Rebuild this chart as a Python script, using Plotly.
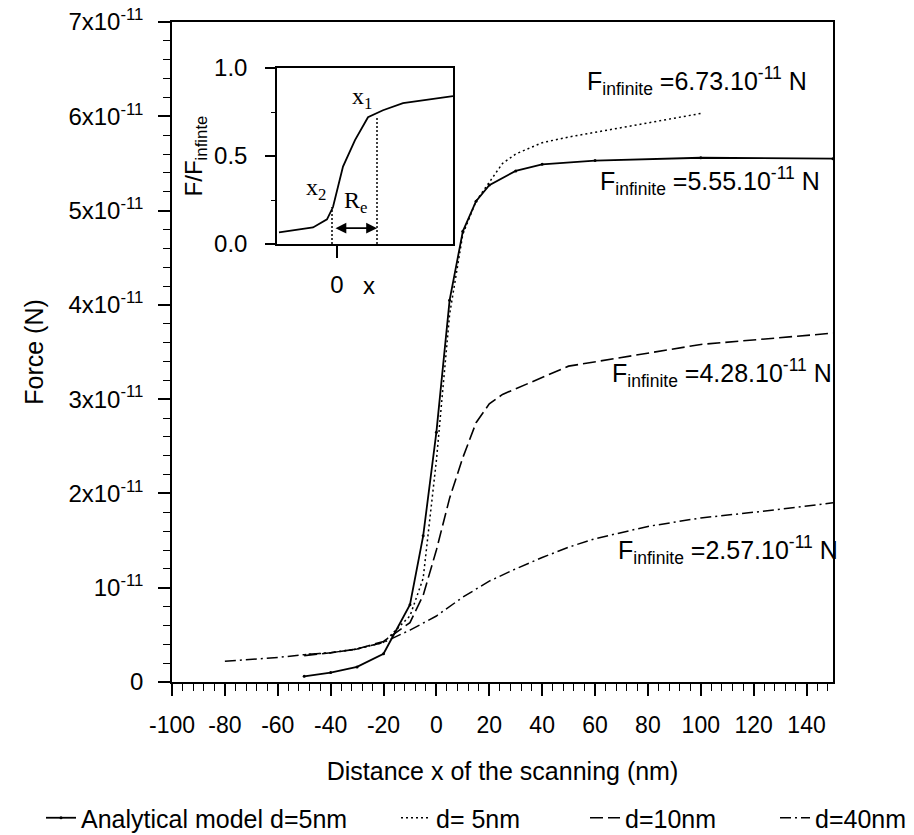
import plotly.graph_objects as go

# ---------------- data (force in units of 1e-11 N) ----------------
x_analytic = [-50, -40, -30, -20, -10, -5, 0, 5, 10, 15, 20, 30, 40, 60, 100, 150]
f_analytic = [0.06, 0.10, 0.16, 0.30, 0.82, 1.55, 2.65, 4.05, 4.78, 5.10, 5.27, 5.42, 5.49, 5.53, 5.56, 5.55]

x_d5 = [-50, -40, -30, -20, -10, -5, 0, 5, 10, 15, 20, 25, 30, 40, 50, 100]
f_d5 = [0.29, 0.31, 0.35, 0.42, 0.70, 1.10, 2.35, 3.90, 4.75, 5.10, 5.30, 5.50, 5.60, 5.72, 5.78, 6.03]

x_d10 = [-50, -40, -30, -20, -10, -5, 0, 5, 10, 15, 20, 25, 50, 100, 150]
f_d10 = [0.28, 0.31, 0.35, 0.43, 0.63, 0.92, 1.40, 1.95, 2.38, 2.75, 2.95, 3.05, 3.35, 3.58, 3.70]

x_d40 = [-80, -60, -50, -40, -30, -20, -10, 0, 10, 20, 30, 40, 50, 60, 80, 100, 120, 150]
f_d40 = [0.22, 0.26, 0.29, 0.31, 0.35, 0.42, 0.55, 0.70, 0.90, 1.07, 1.20, 1.32, 1.43, 1.52, 1.65, 1.74, 1.80, 1.90]

# inset: normalised force vs position (arbitrary x units, 0 at the edge)
inset_x = [-58, -24, -10, -4, 6, 18, 31, 46, 66, 83, 116]
inset_y = [0.066, 0.094, 0.14, 0.21, 0.44, 0.59, 0.72, 0.76, 0.80, 0.815, 0.84]
x2_pos, x2_val = -5, 0.21
x1_pos, x1_val = 40, 0.72

x_ticks = list(range(-100, 141, 20))
x_ticktext = [str(v) for v in x_ticks]
y_ticks = [0, 1, 2, 3, 4, 5, 6, 7]          # in units of 1e-11 N
y_ticktext = ["0", "10<sup>-11</sup>"] + [f"{v}x10<sup>-11</sup>" for v in y_ticks[2:]]

f_inf_labels = ["6.73", "5.55", "4.28", "2.57"]
f_inf_pos = [(56.2, 6.37), (61.1, 5.31), (65.6, 3.28), (68.0, 1.40)]

black = "black"
FONT = "Liberation Sans, Arial, sans-serif"
SERIF = "Liberation Serif, Times New Roman, serif"

# figure fills the page (body margin removed below)
W, H = 914, 835
ML, MT = 172, 22
MR = W - 833
MB = H - 682
PW, PH = W - ML - MR, H - MT - MB


def px_to_paper_x(px):
    return (px - ML) / PW


def px_to_paper_y(py):
    return (H - MB - py) / PH


fig = go.Figure()

fig.add_trace(go.Scatter(
    x=x_analytic, y=f_analytic, mode="lines+markers",
    line=dict(color=black, width=1.8), marker=dict(size=3, color=black),
    name="Analytical model d=5nm", legend="legend"))
fig.add_trace(go.Scatter(
    x=x_d5, y=f_d5, mode="lines",
    line=dict(color=black, width=1.5, dash="2px,3px"),
    name="d= 5nm", legend="legend2"))
fig.add_trace(go.Scatter(
    x=x_d10, y=f_d10, mode="lines",
    line=dict(color=black, width=1.6, dash="13px,5px"),
    name="d=10nm", legend="legend3"))
fig.add_trace(go.Scatter(
    x=x_d40, y=f_d40, mode="lines",
    line=dict(color=black, width=1.5, dash="11px,4px,2px,4px"),
    name="d=40nm", legend="legend4"))

# inset traces
fig.add_trace(go.Scatter(
    x=inset_x, y=inset_y, mode="lines", xaxis="x2", yaxis="y2",
    line=dict(color=black, width=1.8), showlegend=False))
fig.add_trace(go.Scatter(
    x=[x2_pos, x2_pos], y=[0, x2_val], mode="lines", xaxis="x2", yaxis="y2",
    line=dict(color=black, width=1.5, dash="2px,2px"), showlegend=False))
fig.add_trace(go.Scatter(
    x=[x1_pos, x1_pos], y=[0, x1_val], mode="lines", xaxis="x2", yaxis="y2",
    line=dict(color=black, width=1.5, dash="2px,2px"), showlegend=False))

annotations = []
for lab, (ax_, ay_) in zip(f_inf_labels, f_inf_pos):
    annotations.append(dict(
        x=ax_, y=ay_, xref="x", yref="y", xanchor="left", yanchor="middle",
        text=f"F<sub>infinite</sub> ={lab}.10<sup>-11</sup> N", showarrow=False,
        font=dict(size=25, family=FONT, color=black)))

# inset labels
annotations += [
    dict(x=25, y=0.83, xref="x2", yref="y2", text="x<sub>1</sub>", showarrow=False,
         font=dict(size=24, family=SERIF, color=black)),
    dict(x=-21, y=0.31, xref="x2", yref="y2", text="x<sub>2</sub>", showarrow=False,
         font=dict(size=24, family=SERIF, color=black)),
    dict(x=18, y=0.24, xref="x2", yref="y2", text="R<sub>e</sub>", showarrow=False,
         font=dict(size=24, family=SERIF, color=black)),
    dict(x=x1_pos, y=0.09, ax=x2_pos + 2, ay=0.09, xref="x2", yref="y2",
         axref="x2", ayref="y2", text="", showarrow=True, arrowhead=2,
         arrowside="end+start", arrowsize=1.2, arrowwidth=1.8, arrowcolor=black),
    dict(x=32, y=-0.235, xref="x2", yref="y2 domain", text="x", showarrow=False,
         yanchor="middle", font=dict(size=24, family=FONT, color=black)),
]

axis_common = dict(showline=True, linecolor=black, linewidth=1.5, mirror=True,
                   showgrid=False, zeroline=False, ticks="outside", tickcolor=black,
                   automargin=False, ticklabeloverflow="allow")

legend_common = dict(xref="paper", yref="paper", xanchor="left", yanchor="middle",
                     orientation="h", font=dict(size=25, family=FONT, color=black),
                     bgcolor="rgba(0,0,0,0)", itemwidth=30)
ly = px_to_paper_y(818)

fig.update_layout(
    width=W, height=H, autosize=False,
    margin=dict(l=ML, r=MR, t=MT, b=MB, autoexpand=False),
    plot_bgcolor="white", paper_bgcolor="white",
    font=dict(family=FONT, color=black, size=23),
    xaxis=dict(**axis_common, range=[-100, 150], tickvals=x_ticks, ticktext=x_ticktext,
               ticklen=12, tickwidth=1.5, ticklabelstandoff=10,
               minor=dict(ticks="outside", ticklen=7, tickwidth=1.2, dtick=4, tick0=-100,
                          tickcolor=black),
               tickfont=dict(size=23),
               title=dict(text="Distance x of the scanning (nm)", font=dict(size=25), standoff=25)),
    yaxis=dict(**axis_common, range=[0, 7], tickvals=y_ticks, ticktext=y_ticktext,
               ticklen=12, tickwidth=1.5, ticklabelstandoff=10,
               minor=dict(ticks="outside", ticklen=7, tickwidth=1.2, dtick=0.2, tick0=0,
                          tickcolor=black),
               tickfont=dict(size=24),
               title=dict(text="Force (N)", font=dict(size=25), standoff=18)),
    xaxis2=dict(**axis_common, domain=[px_to_paper_x(277), px_to_paper_x(453)],
                anchor="y2", range=[-60, 116],
                tickvals=[0], ticktext=["0"], ticklen=12, tickwidth=1.5,
                ticklabelstandoff=6, tickfont=dict(size=24)),
    yaxis2=dict(**axis_common, domain=[px_to_paper_y(244), px_to_paper_y(68)],
                anchor="x2", range=[0, 1],
                tickvals=[0, 0.5, 1.0], ticktext=["0.0", "0.5", "1.0"], ticklen=10,
                tickwidth=1.5, ticklabelstandoff=13,
                minor=dict(ticks="outside", ticklen=4, tickwidth=1.2, tickvals=[0.25, 0.75],
                           tickcolor=black),
                tickfont=dict(size=24),
                title=dict(text="F/F<sub>infinte</sub>", font=dict(size=24), standoff=5)),
    legend=dict(**legend_common, x=px_to_paper_x(41), y=ly),
    legend2=dict(**legend_common, x=px_to_paper_x(396), y=ly),
    legend3=dict(**legend_common, x=px_to_paper_x(585), y=ly),
    legend4=dict(**legend_common, x=px_to_paper_x(775), y=ly),
    annotations=annotations,
)

fig.write_html("out.html",
               config={"displayModeBar": False},
               post_script="document.body.style.margin='0px';document.body.style.overflow='hidden';")
